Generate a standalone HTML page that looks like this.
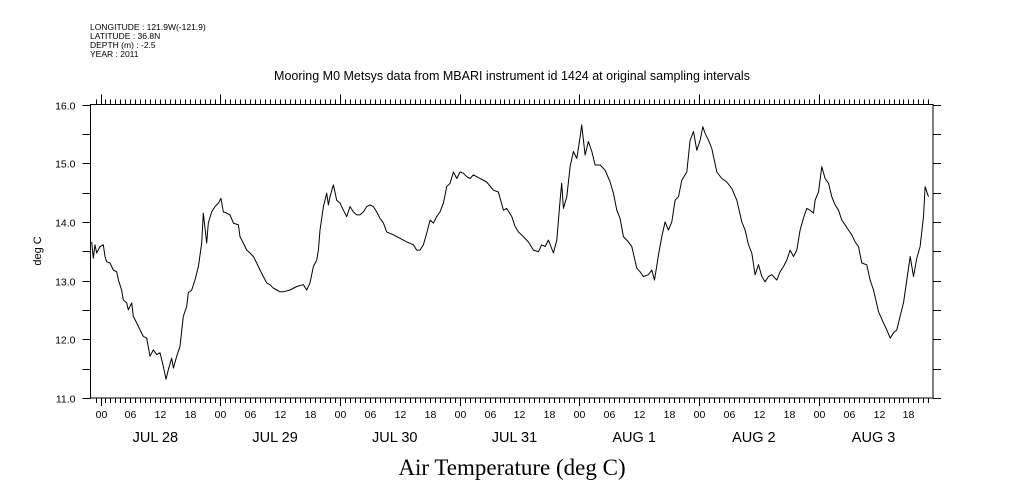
<!DOCTYPE html>
<html><head><meta charset="utf-8"><style>
html,body{margin:0;padding:0;background:#fff;width:1009px;height:504px;overflow:hidden}
svg{display:block}
text{font-family:"Liberation Sans",sans-serif;fill:#000}
</style></head><body>
<svg id="chart" width="1009" height="504" viewBox="0 0 1009 504" xmlns="http://www.w3.org/2000/svg">
<g font-size="8.5">
<text x="90" y="30">LONGITUDE : 121.9W(-121.9)</text>
<text x="90" y="39">LATITUDE : 36.8N</text>
<text x="90" y="48">DEPTH (m) : -2.5</text>
<text x="90" y="57">YEAR : 2011</text>
</g>
<text x="512" y="80" text-anchor="middle" font-size="12.5">Mooring M0 Metsys data from MBARI instrument id 1424 at original sampling intervals</text>
<text transform="translate(41,251) rotate(-90)" text-anchor="middle" font-size="11">deg C</text>
<text x="512" y="475" text-anchor="middle" font-size="23" style="font-family:'Liberation Serif',serif">Air Temperature (deg C)</text>
<rect x="90.5" y="104.5" width="842.5" height="293.5" fill="none" stroke="#000" stroke-width="1"/>
<g id="axes"></g>
<path id="series" fill="none" stroke="#000" stroke-width="1" stroke-linejoin="round"/>
</svg>
<script>
const hours = [-1.77,-1.44,-1.10,-0.77,-0.10,0.57,0.90,1.24,1.91,2.57,3.24,3.58,4.24,4.58,5.25,5.58,6.25,6.58,7.25,7.92,8.59,9.26,9.93,10.59,11.26,11.93,12.60,13.13,13.60,14.27,14.61,15.27,15.94,16.61,17.28,17.61,18.28,18.95,19.62,20.29,20.62,21.29,21.62,22.29,22.96,23.63,24.16,24.63,25.30,25.97,26.64,27.64,27.97,28.64,29.31,29.98,30.65,31.32,31.98,32.65,33.32,33.99,34.66,35.33,36.00,36.66,38.00,39.34,40.67,41.34,42.01,42.68,43.35,43.68,44.02,44.35,44.69,45.02,45.35,45.69,46.02,46.69,47.36,48.03,48.70,49.36,50.03,50.70,51.37,52.04,52.71,53.38,54.04,54.71,55.38,56.05,56.72,57.39,58.72,60.06,61.40,62.74,63.40,64.07,64.74,65.41,66.08,66.75,67.41,68.08,68.75,69.42,70.09,70.76,71.43,72.09,72.76,73.43,74.10,74.77,75.44,76.10,77.44,78.78,79.78,80.79,81.45,82.46,83.12,83.79,84.80,85.80,86.80,87.80,88.47,89.14,89.81,90.81,91.48,92.15,92.48,92.82,93.49,94.16,94.82,95.49,96.16,96.49,97.16,97.83,98.50,99.17,100.17,101.17,102.17,102.84,103.51,104.18,104.84,105.85,106.52,107.52,108.19,108.86,109.86,110.53,111.07,111.87,112.54,113.20,113.87,114.54,115.21,115.88,116.55,117.55,118.22,118.89,119.56,120.22,120.76,121.23,121.90,122.57,123.57,124.57,125.58,126.58,127.58,128.58,129.25,129.92,130.59,131.25,131.92,132.59,133.26,133.93,134.60,135.60,136.27,136.94,137.60,138.27,138.94,139.61,140.27,140.94,141.61,142.28,142.95,143.28,143.95,144.62,145.29,145.96,146.62,147.29,147.96,148.63,149.30,149.97,150.64,151.30,151.97,152.64,153.65,154.31,154.98,155.99,156.99,157.66,158.33,158.99,159.66,160.33,161.00,161.67,162.34,163.00,163.67,164.34,165.01,165.34,166.01];
const temps = [13.66,13.38,13.61,13.47,13.58,13.61,13.41,13.32,13.30,13.18,13.15,13.01,12.84,12.67,12.62,12.50,12.62,12.39,12.28,12.16,12.05,12.02,11.71,11.82,11.74,11.77,11.54,11.32,11.48,11.68,11.51,11.71,11.88,12.39,12.56,12.79,12.84,13.01,13.24,13.64,14.15,13.64,13.98,14.17,14.26,14.32,14.40,14.17,14.15,14.12,13.98,13.95,13.75,13.64,13.52,13.47,13.41,13.30,13.18,13.07,12.96,12.93,12.87,12.84,12.81,12.81,12.84,12.90,12.93,12.84,12.96,13.24,13.35,13.52,13.86,14.06,14.26,14.37,14.49,14.29,14.43,14.63,14.37,14.32,14.20,14.09,14.26,14.17,14.12,14.12,14.17,14.26,14.29,14.26,14.17,14.06,13.98,13.83,13.78,13.72,13.66,13.61,13.52,13.52,13.61,13.81,14.03,13.98,14.09,14.17,14.32,14.60,14.66,14.85,14.74,14.85,14.83,14.77,14.74,14.80,14.77,14.74,14.68,14.54,14.51,14.20,14.23,14.09,13.92,13.83,13.75,13.66,13.52,13.49,13.61,13.58,13.69,13.47,13.69,14.37,14.66,14.23,14.43,14.94,15.20,15.08,15.45,15.65,15.14,15.37,15.20,14.97,14.97,14.88,14.68,14.49,14.20,14.06,13.75,13.66,13.58,13.21,13.15,13.07,13.10,13.18,13.01,13.44,13.75,14.00,13.86,14.00,14.37,14.43,14.71,14.85,15.39,15.54,15.22,15.39,15.62,15.51,15.39,15.25,14.85,14.74,14.68,14.57,14.37,14.00,13.86,13.61,13.47,13.10,13.27,13.07,12.98,13.07,13.10,13.01,13.15,13.24,13.35,13.52,13.41,13.52,13.86,14.06,14.23,14.20,14.15,14.37,14.51,14.94,14.74,14.66,14.43,14.29,14.20,14.03,13.95,13.86,13.78,13.66,13.58,13.30,13.27,13.01,12.84,12.47,12.28,12.16,12.02,12.11,12.16,12.39,12.62,13.01,13.41,13.07,13.38,13.58,14.09,14.60,14.43];
const yTicks = [11.0,11.5,12.0,12.5,13.0,13.5,14.0,14.5,15.0,15.5,16.0];
const dayLabels = ["JUL 28","JUL 29","JUL 30","JUL 31","AUG  1","AUG  2","AUG  3"];
const hourLabels = ["00","06","12","18"];

const L=90.5,R=933,T=104.5,B=398;
const X0=100.5, PXH=119.7/24;
const xs = h => X0 + h*PXH;
const ys = v => B - (v-11)/5*(B-T);
const NS="http://www.w3.org/2000/svg";
const axes=document.getElementById('axes');
function line(x1,y1,x2,y2,name){
  const l=document.createElementNS(NS,'line');
  l.setAttribute('x1',x1);l.setAttribute('y1',y1);l.setAttribute('x2',x2);l.setAttribute('y2',y2);
  l.setAttribute('stroke','#000');l.setAttribute('stroke-width','1');
  
  
  axes.appendChild(l);
}
function txt(x,y,s,size,anchor,name){
  const t=document.createElementNS(NS,'text');
  t.setAttribute('x',x);t.setAttribute('y',y);t.setAttribute('font-size',size);
  t.setAttribute('text-anchor',anchor);t.textContent=s;
  
  
  axes.appendChild(t);
}
yTicks.forEach(v=>{
  const y=Math.round(ys(v))+0.5;
  line(L-8,y,L,y,'y-tick-left');
  line(R,y,R+8,y,'y-tick-right');
  if(Number.isInteger(v)) txt(L-15,y+4,v.toFixed(1),10.5,'end','y-tick-label');
});
for(let h=-1;h<=166;h++){
  const x=Math.round(xs(h))+0.5;
  const major=(h%24===0);
  line(x,T,x,T-(major?10:5),'x-tick-top');
  line(x,B,x,B+(major?8:5),'x-tick-bottom');
  if(h>=0 && h%6===0) txt(x,418,hourLabels[(h/6)%4],10.5,'middle','hour-label');
}
dayLabels.forEach((d,i)=>{
  txt(xs(i*24+11),442,d,14.5,'middle','day-label');
});
let dstr='';
hours.forEach((h,i)=>{dstr+=(i?'L':'M')+xs(h).toFixed(1)+' '+ys(temps[i]).toFixed(1);});
document.getElementById('series').setAttribute('d',dstr);
</script>
</body></html>
